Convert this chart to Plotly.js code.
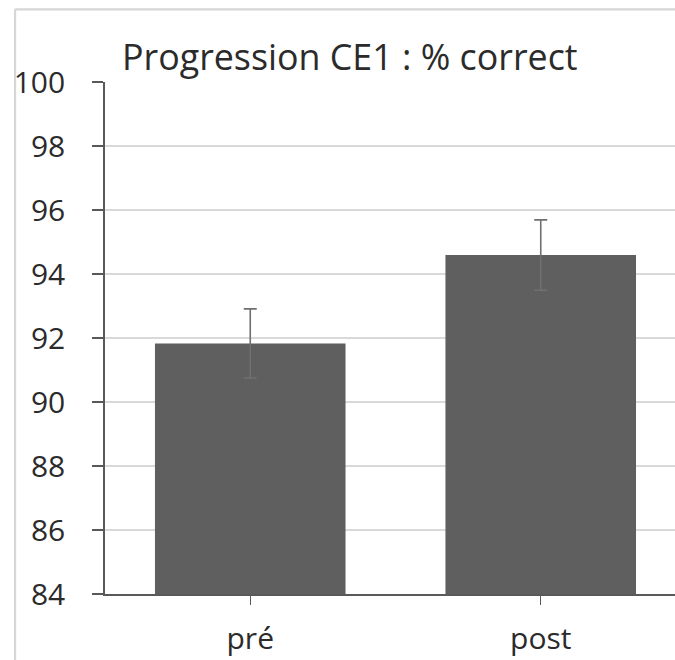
<!DOCTYPE html>
<html>
<head>
<meta charset="utf-8">
<script src="https://cdn.plot.ly/plotly-3.0.1.min.js"></script>
<style>
html,body{margin:0;padding:0;background:#fff;}
#chart{width:675px;height:660px;}
</style>
</head>
<body>
<div id="chart"></div>
<script>
var categories = ["pré", "post"];
var values = [91.83, 94.59];
var errors = [1.08, 1.1];
var yTicks = [84, 86, 88, 90, 92, 94, 96, 98, 100];
var titleText = "Progression CE1 : % correct";

var font = "Open Sans, Lato, sans-serif";

var trace = {
  type: "bar",
  x: [0, 1],
  y: values,
  width: 0.656,
  marker: {color: "#5f5f5f", line: {width: 0}},
  error_y: {type: "data", array: errors, visible: true, color: "#707070", thickness: 1.6, width: 6.5},
  hoverinfo: "skip"
};

var W = 675, H = 660;
var L = 104.5, T = 82, B = 65.7;
var plotW = W - L, plotH = H - T - B;
function px2x(p){ return (p - L) / plotW; }
function py2y(p){ return (H - B - p) / plotH; }

var layout = {
  width: W, height: H,
  margin: {l: L, r: 0, t: T, b: B, pad: 0},
  paper_bgcolor: "#ffffff",
  plot_bgcolor: "#ffffff",
  showlegend: false,
  title: {
    text: titleText,
    font: {family: font, size: 35.8, color: "#2b2b2b"},
    xref: "container", yref: "container",
    x: 122 / W, xanchor: "left",
    y: 1 - 57 / H, yanchor: "middle"
  },
  xaxis: {
    range: [-0.5, 1.5 - 11 / 291],
    tickmode: "array",
    tickvals: [0, 1],
    ticktext: categories,
    ticks: "outside", ticklen: 9, tickwidth: 1.5, tickcolor: "#595959",
    showline: true, linecolor: "#595959", linewidth: 1.8,
    showgrid: false, zeroline: false,
    tickfont: {family: font, size: 30, color: "#2b2b2b"},
    ticklabelstandoff: 8,
    fixedrange: true
  },
  yaxis: {
    range: [84, 100],
    tickmode: "array",
    tickvals: yTicks,
    ticktext: yTicks.map(String),
    ticks: "outside", ticklen: 11, tickwidth: 1.5, tickcolor: "#595959",
    showline: true, linecolor: "#595959", linewidth: 1.8,
    showgrid: true, gridcolor: "#d9d9d9", gridwidth: 1.6,
    zeroline: false,
    tickfont: {family: font, size: 30, color: "#2b2b2b"},
    ticklabelstandoff: 21,
    fixedrange: true
  },
  shapes: [
    {type: "line", xref: "paper", yref: "paper", x0: px2x(14.5), x1: px2x(14.5), y0: py2y(9.3), y1: py2y(700), line: {color: "#d6d6d6", width: 2.2}, layer: "below"},
    {type: "line", xref: "paper", yref: "paper", x0: px2x(14.5), x1: px2x(700), y0: py2y(9.3), y1: py2y(9.3), line: {color: "#d6d6d6", width: 2.2}, layer: "below"}
  ]
};

Plotly.newPlot("chart", [trace], layout, {displayModeBar: false, staticPlot: true});
</script>
</body>
</html>
